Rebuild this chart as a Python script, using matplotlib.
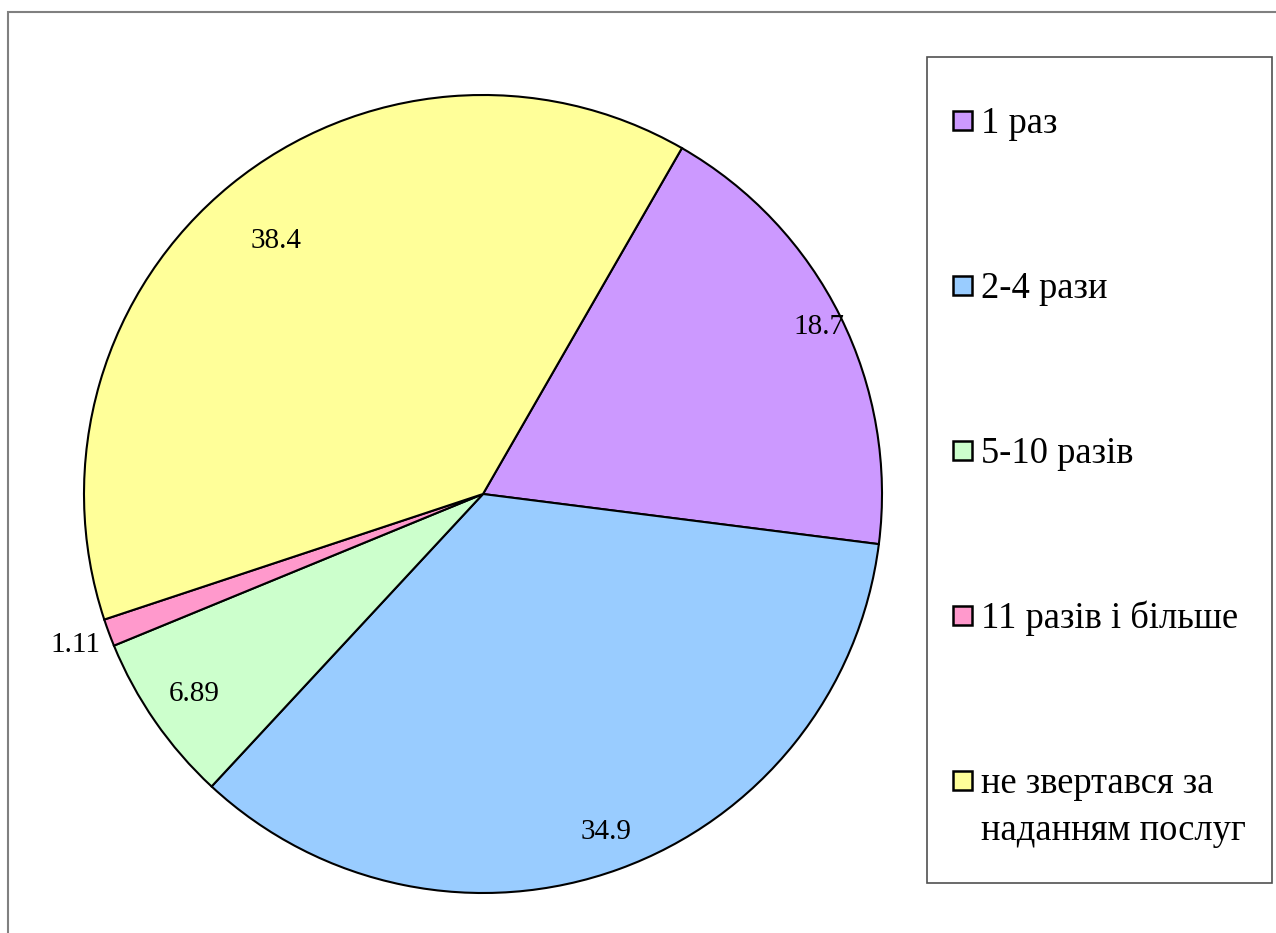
import numpy as np
import matplotlib
matplotlib.use("Agg")
import matplotlib.pyplot as plt
from matplotlib.patches import Rectangle

plt.rcParams["font.family"] = ["Liberation Serif", "DejaVu Serif"]

# Survey answers (percent)
categories = ["1 раз", "2-4 рази", "5-10 разів", "11 разів і більше",
              "не звертався за\nнаданням послуг"]
values = [18.7, 34.9, 6.89, 1.11, 38.4]
value_labels = ["18.7", "34.9", "6.89", "1.11", "38.4"]
colors = ["#CC99FF", "#99CCFF", "#CCFFCC", "#FF99CC", "#FFFF99"]

# how far from the centre each value label sits (fraction of radius)
label_dist = [0.94, 0.90, 0.88, 1.09, 0.82]

W, H = 1276, 933
fig = plt.figure(figsize=(W / 100, H / 100), dpi=100)

def fx(px):
    return px / W

def fy(py):
    return 1 - py / H

# outer chart-area border
fig.patches.append(Rectangle((fx(8), fy(960)), fx(1300), 948 / H,
                             transform=fig.transFigure, fill=False,
                             edgecolor="#808080", linewidth=1.5))

# pie axes: centre (483, 494), radius 399 px
r = 399
ax = fig.add_axes([fx(483 - r), fy(494 + r), 2 * r / W, 2 * r / H])
wedges, _ = ax.pie(values, colors=colors, startangle=60.1, counterclock=False,
                   radius=1.0,
                   wedgeprops=dict(edgecolor="black", linewidth=1.5))
ax.set_xlim(-1, 1)
ax.set_ylim(-1, 1)
ax.set_aspect("equal")
ax.axis("off")

for w, txt, d in zip(wedges, value_labels, label_dist):
    ang = np.deg2rad((w.theta1 + w.theta2) / 2)
    ax.text(d * np.cos(ang), d * np.sin(ang), txt, ha="center", va="center",
            fontsize=21, clip_on=False)

# legend box
fig.patches.append(Rectangle((fx(927), fy(883)), fx(1272 - 927), (883 - 57) / H,
                             transform=fig.transFigure, fill=False,
                             edgecolor="#505050", linewidth=1.2))

baseline0 = 133
step = 165
line_gap = 47
for i, (lab, c) in enumerate(zip(categories, colors)):
    base = baseline0 + i * step
    fig.patches.append(Rectangle((fx(953), fy(base - 3)), fx(19), 19 / H,
                                 transform=fig.transFigure, facecolor=c,
                                 edgecolor="black", linewidth=1.8))
    for j, line in enumerate(lab.split("\n")):
        fig.text(fx(981), fy(base + j * line_gap), line, ha="left",
                 va="baseline", fontsize=26.3)

fig.savefig("out.png", dpi=100)
